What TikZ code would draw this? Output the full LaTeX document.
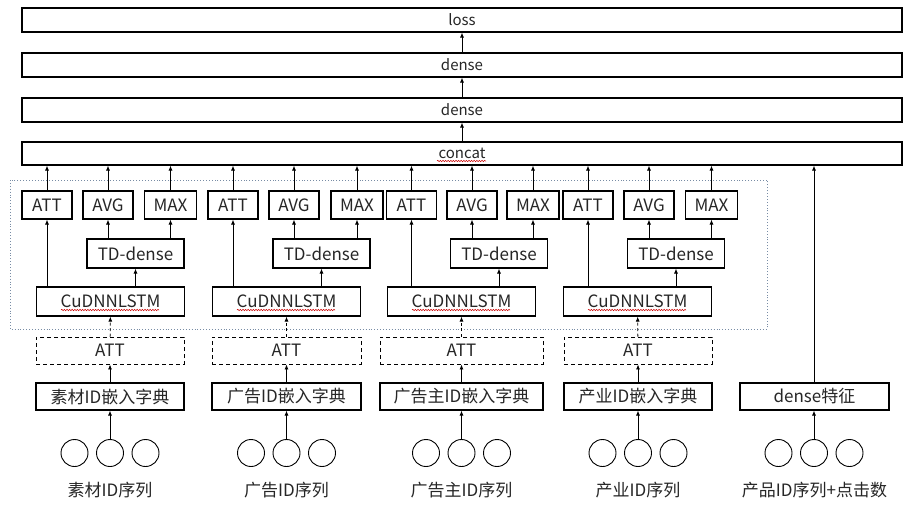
\documentclass[tikz,border=0pt]{standalone}
\usepackage{fontspec}
\setmainfont{Noto Sans CJK SC}
\usetikzlibrary{arrows.meta,decorations.pathmorphing}
\newcommand\myTop{\fontsize{15}{18}\selectfont}
\newcommand\myMid{\fontsize{17}{20}\selectfont}
\begin{document}
\begin{tikzpicture}[x=1pt,y=-1pt,
  bx/.style={draw,line width=1.1pt,inner sep=0pt,font=\myMid,text=black!85},
  topbx/.style={bx,minimum width=880pt,minimum height=24pt,font=\myTop},
  dbx/.style={bx,dashed,line width=0.9pt,dash pattern=on 4pt off 3pt},
  arr/.style={line width=0.8pt,-{Latex[length=5pt,width=4pt]}},
  darr/.style={arr,dash pattern=on 3pt off 2.5pt},
  circ/.style={draw,circle,line width=0.9pt,minimum size=27pt,inner sep=0pt},
  lbl/.style={font=\myMid,text=black!85,inner sep=0pt},
  wavy/.style={red!80!black,line width=0.5pt,decorate,decoration={snake,amplitude=0.7pt,segment length=2.6pt}}
]
\fill[white] (0,0) rectangle (920,514);
\useasboundingbox (0,0) rectangle (920,514);

% top layers
\node[topbx] (loss) at (462,20) {loss};
\node[topbx] (dense1) at (462,65) {dense};
\node[topbx] (dense2) at (462,110) {dense};
\node[topbx,minimum height=23pt] (concat) at (462,153.5) {concat};
\draw[wavy] (concat.center) ++(-25,7.5) -- ++(49,0);
\draw[arr] (dense1) -- (loss);
\draw[arr] (dense2) -- (dense1);
\draw[arr] (concat) -- (dense2);

% dotted frame
\draw[dotted,line width=0.9pt,color={rgb,255:red,120;green,140;blue,165}] (10,180) rectangle (767,329);

% groups
\foreach \g/\att/\avg/\mx/\td/\cud/\emb/\embw/\txt/\seq in {
  1/47/108/170.5/135.5/110.5/110/148/素材ID嵌入字典/素材ID序列,
  2/233/294/357/321.5/286.5/286.5/149/广告ID嵌入字典/广告ID序列,
  3/411.5/472/533/499/461.5/461.5/163/广告主ID嵌入字典/广告主ID序列,
  4/588/649/711.5/676/637.5/638/148/产业ID嵌入字典/产业ID序列}{
  \node[bx,minimum width=50pt,minimum height=28pt] (att\g) at (\att,205) {ATT};
  \node[bx,minimum width=50pt,minimum height=28pt] (avg\g) at (\avg,205) {AVG};
  \node[bx,minimum width=52pt,minimum height=28pt] (max\g) at (\mx,205) {MAX};
  \node[bx,minimum width=97pt,minimum height=29pt] (td\g) at (\td,253.5) {TD-dense};
  \node[bx,minimum width=148pt,minimum height=29pt] (cud\g) at (\cud,301.5) {CuDNNLSTM};
  \draw[wavy] (cud\g.center) ++(-49.5,8.5) -- ++(98,0);
  \node[dbx,minimum width=\embw pt,minimum height=27pt] (datt\g) at (\emb,350.5) {ATT};
  \node[bx,minimum width=\embw pt,minimum height=27pt] (emb\g) at (\emb,396.5) {\txt};
  \node[circ] (cb\g) at (\emb,453) {};
  \node[circ] (ca\g) at ([xshift=-35.5pt]cb\g.center) {};
  \node[circ] (cc\g) at ([xshift=35.5pt]cb\g.center) {};
  \node[lbl] (seq\g) at (\emb,490) {\seq};
  \draw[arr] (cb\g) -- (emb\g);
  \draw[arr] (emb\g) -- (datt\g);
  \draw[darr] (datt\g) -- (cud\g);
  \draw[arr] (att\g.south |- cud\g.north) -- (att\g.south);
  \draw[arr] (td\g.south |- cud\g.north) -- (td\g.south);
  \draw[arr] (avg\g.south |- td\g.north) -- (avg\g.south);
  \draw[arr] (max\g.south |- td\g.north) -- (max\g.south);
  \draw[arr] (att\g.north) -- (att\g.north |- concat.south);
  \draw[arr] (avg\g.north) -- (avg\g.north |- concat.south);
  \draw[arr] (max\g.north) -- (max\g.north |- concat.south);
}

% dense feature column
\node[bx,minimum width=149pt,minimum height=27pt] (df) at (814.5,396.5) {dense特征};
\node[circ] (cb5) at (814,453) {};
\node[circ] (ca5) at ([xshift=-35.5pt]cb5.center) {};
\node[circ] (cc5) at ([xshift=35.5pt]cb5.center) {};
\node[lbl] (seq5) at (814.5,490) {产品ID序列+点击数};
\draw[arr] (cb5) -- (cb5 |- df.south);
\draw[arr] (df.north -| cb5) -- (cb5 |- concat.south);
\end{tikzpicture}
\end{document}
